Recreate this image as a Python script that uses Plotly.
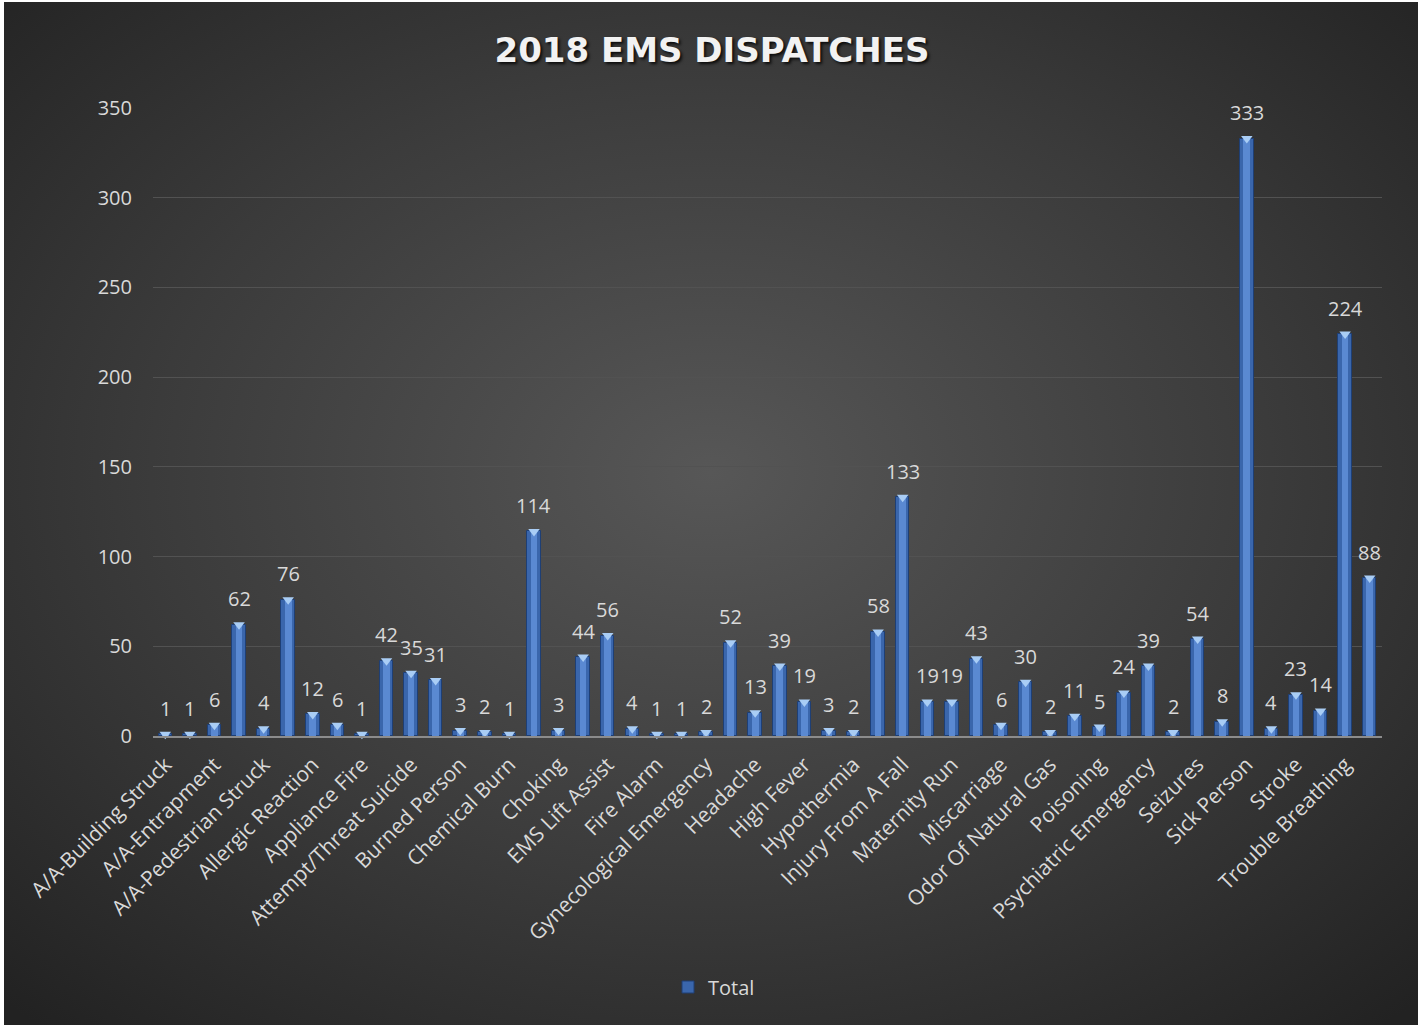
import base64
import plotly.graph_objects as go

# 2018 EMS dispatch counts, one bar per call type (alphabetical order)
values = [1, 1, 6, 62, 4, 76, 12, 6, 1, 42, 35, 31, 3, 2, 1, 114, 3, 44, 56, 4,
          1, 1, 2, 52, 13, 39, 19, 3, 2, 58, 133, 19, 19, 43, 6, 30, 2, 11, 5, 24,
          39, 2, 54, 8, 333, 4, 23, 14, 224, 88]

# Axis labels appear on every second call type
tick_labels = ["A/A-Building Struck", "A/A-Entrapment", "A/A-Pedestrian Struck",
               "Allergic Reaction", "Appliance Fire", "Attempt/Threat Suicide",
               "Burned Person", "Chemical Burn", "Choking", "EMS Lift Assist",
               "Fire Alarm", "Gynecological Emergency", "Headache", "High Fever",
               "Hypothermia", "Injury From A Fall", "Maternity Run", "Miscarriage",
               "Odor Of Natural Gas", "Poisoning", "Psychiatric Emergency",
               "Seizures", "Sick Person", "Stroke", "Trouble Breathing"]

y_ticks = [0, 50, 100, 150, 200, 250, 300, 350]

W, H = 1424, 1025
L, R, T, B = 153, 42, 108, 289
PW, PH = W - L - R, H - T - B

x = list(range(len(values)))
tick_pos = x[::2]

label_color = "#d9d9d9"
font_family = "Open Sans"

# Radial background shading for the whole card
svg = """<svg xmlns='http://www.w3.org/2000/svg' width='1414' height='1023' viewBox='0 0 1414 1023' preserveAspectRatio='none'>
<defs><radialGradient id='g' cx='50%' cy='46%' r='72%'>
<stop offset='0%' stop-color='#575757'/>
<stop offset='55%' stop-color='#3b3b3b'/>
<stop offset='100%' stop-color='#222222'/>
</radialGradient></defs>
<rect width='1414' height='1023' fill='url(#g)'/></svg>"""
bg_src = "data:image/svg+xml;base64," + base64.b64encode(svg.encode()).decode()


def px_to_paper_x(px):
    return (px - L) / PW


def px_to_paper_y(py):
    return (H - B - py) / PH


fig = go.Figure()

# Outer darker body of each bar
fig.add_trace(go.Bar(
    x=x, y=values, width=0.55, name="Total",
    marker=dict(color="#3a66ac", line=dict(color="#1e3f75", width=1)),
    showlegend=True, hoverinfo="y",
))
# Lighter centre strip for a rounded look
fig.add_trace(go.Bar(
    x=x, y=values, width=0.27,
    marker=dict(color="#5a89d2", line=dict(width=0)),
    showlegend=False, hoverinfo="skip",
))
# Bevel cap at the top of each bar
fig.add_trace(go.Scatter(
    x=x, y=values, mode="markers",
    marker=dict(symbol="triangle-down", size=10, color="#a9cdf5",
                line=dict(width=0)),
    showlegend=False, hoverinfo="skip", cliponaxis=False,
))

# Value labels above bars
for xi, v in zip(x, values):
    fig.add_annotation(
        x=xi, y=v, text=str(v), showarrow=False, yanchor="middle",
        yshift=26, font=dict(size=20, color=label_color, family=font_family),
    )

fig.update_layout(
    width=W, height=H, autosize=False,
    margin=dict(l=L, r=R, t=T, b=B, autoexpand=False),
    paper_bgcolor="white",
    plot_bgcolor="rgba(0,0,0,0)",
    barmode="overlay",
    bargap=0,
    title=dict(
        text="2018 EMS DISPATCHES", x=0.5, xanchor="center",
        xref="container", y=1 - 50 / H, yanchor="middle",
        font=dict(size=34, color="#f2f2f2", family="DejaVu Sans", weight="bold",
                  shadow="2px 2px 3px rgba(0,0,0,0.8)"),
    ),
    font=dict(family=font_family, color=label_color),
    legend=dict(
        orientation="h", x=px_to_paper_x(714), xanchor="center",
        y=px_to_paper_y(987), yanchor="middle",
        font=dict(size=20, color=label_color),
        bgcolor="rgba(0,0,0,0)",
    ),
    images=[dict(
        source=bg_src, xref="paper", yref="paper",
        x=px_to_paper_x(4), y=px_to_paper_y(2),
        sizex=px_to_paper_x(1418) - px_to_paper_x(4),
        sizey=px_to_paper_y(2) - px_to_paper_y(1025),
        xanchor="left", yanchor="top", sizing="stretch", layer="below",
    )],
    xaxis=dict(
        range=[-0.5, len(values) - 0.5],
        tickmode="array", tickvals=tick_pos, ticktext=tick_labels,
        tickangle=-45, tickfont=dict(size=21, color=label_color),
        showgrid=False, showline=True, linecolor="#8c8c8c", linewidth=2,
        ticks="", zeroline=False, ticklabelstandoff=6, automargin=False,
    ),
    yaxis=dict(
        range=[0, 350], tickmode="array", tickvals=y_ticks,
        tickfont=dict(size=20, color=label_color),
        showgrid=True, gridcolor="#525252", gridwidth=1,
        zeroline=False, showline=False, ticks="", ticklabelstandoff=20,
        automargin=False,
    ),
)

fig.write_html("out.html")
